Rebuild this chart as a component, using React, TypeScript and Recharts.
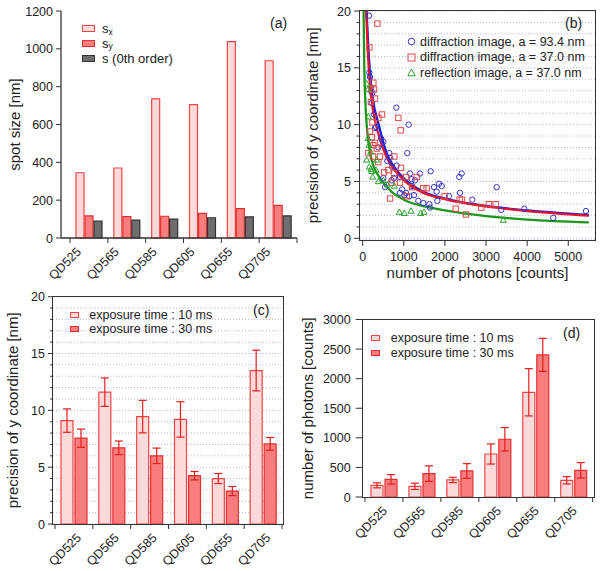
import React from "react";
import {
  BarChart, Bar, ComposedChart, Line, Scatter, XAxis, YAxis, CartesianGrid, ErrorBar, Legend, Label,
} from "recharts";

const FONT = '"Liberation Sans", Arial, sans-serif';
const INK = "#222";
const AXIS = "#333";
const GRID = "#b4b4ec";
const PINK_FILL = "#fddada";
const PINK_LINE = "#ec4646";
const RED_FILL = "#f97d7d";
const RED_LINE = "#e23030";
const GRAY_FILL = "#6e6e6e";
const ERR = "#e01e1e";

const QDS = ["QD525", "QD565", "QD585", "QD605", "QD655", "QD705"];

// (a) spot size [nm]
const SPOT_X = [345, 370, 735, 705, 1038, 937];
const SPOT_Y = [117, 113, 115, 130, 155, 172];
const SPOT_0 = [90, 95, 100, 107, 112, 117];
const SPOT_TICKS = [0, 200, 400, 600, 800, 1000, 1200];

// (c) precision of y coordinate, mean and error
const PREC_10 = [9.1, 11.6, 9.45, 9.2, 4.0, 13.5];
const PREC_10_ERR = [1.03, 1.25, 1.43, 1.56, 0.44, 1.79];
const PREC_30 = [7.55, 6.7, 6.0, 4.25, 2.9, 7.05];
const PREC_30_ERR = [0.8, 0.6, 0.68, 0.37, 0.4, 0.56];
const PREC_TICKS = [0, 1, 2, 3, 4, 5, 6, 7, 8, 9, 10, 11, 12, 13, 14, 15, 16, 17, 18, 19, 20];

// (d) number of photons
const PHOT_10 = [197, 180, 288, 727, 1770, 282];
const PHOT_10_ERR = [42, 53, 45, 170, 400, 62];
const PHOT_30 = [299, 395, 440, 976, 2402, 451];
const PHOT_30_ERR = [79, 132, 124, 198, 279, 130];
const PHOT_TICKS = [0, 500, 1000, 1500, 2000, 2500, 3000];

// (b) precision vs photons: [photons, precision]
const DIFF_93 = [
  [154, 19.6], [162, 14.6], [178, 14.2], [219, 11.9], [235, 12.8], [275, 10.9], [300, 9.7], [324, 9.8],
  [380, 8.0], [446, 8.8], [502, 8.5], [502, 5.3], [543, 4.5], [600, 6.8], [648, 7.5], [665, 7.1],
  [705, 5.1], [713, 6.3], [760, 5.3], [819, 11.5], [827, 6.4], [908, 5.4], [908, 4.0], [960, 4.3],
  [1013, 3.8], [1054, 4.0], [1086, 7.5], [1118, 10.0], [1135, 3.7], [1151, 5.7], [1191, 5.2], [1200, 4.6],
  [1248, 3.8], [1272, 5.1], [1353, 3.3], [1394, 5.7], [1475, 3.1], [1621, 3.0], [1637, 2.7], [1653, 5.9],
  [1734, 4.5], [1799, 4.1], [1815, 3.3], [1856, 4.8], [1921, 4.6], [2099, 3.7], [2350, 5.4], [2366, 4.0],
  [2407, 5.7], [2666, 3.4], [3258, 4.5], [3371, 2.5], [3930, 2.6], [4635, 1.8], [5430, 2.4],
];
const DIFF_37 = [
  [138, 7.5], [162, 16.8], [178, 9.4], [200, 12.0], [203, 13.1], [219, 8.9], [240, 10.2], [251, 7.2],
  [259, 13.7], [259, 8.2], [275, 13.1], [300, 12.3], [300, 8.4], [340, 7.9], [357, 18.9], [381, 10.6],
  [381, 6.7], [421, 7.2], [470, 10.9], [520, 5.8], [624, 6.0], [665, 3.5], [700, 4.9], [762, 5.7],
  [770, 7.2], [867, 10.6], [908, 4.9], [924, 9.5], [932, 6.2], [1054, 5.4], [1070, 3.7], [1200, 4.5],
  [1313, 5.4], [1475, 4.4], [1556, 4.4], [1994, 3.7], [2261, 2.6], [2358, 3.4], [2415, 3.4], [2512, 2.1],
  [2885, 2.7], [3071, 3.0], [3234, 3.0],
];
const REFL_37 = [
  [97, 13.6], [97, 6.9], [122, 13.1], [130, 8.8], [138, 10.7], [154, 8.2], [162, 6.3], [194, 7.6],
  [200, 6.1], [219, 5.9], [243, 5.4], [324, 6.0], [340, 6.9], [381, 5.0], [502, 5.1], [600, 4.7],
  [770, 4.6], [891, 2.3], [1013, 2.2], [1175, 2.4], [1410, 2.2], [1491, 2.3], [3420, 1.6],
];
// fitted curves
const FIT_93 = [
  [95, 20], [130, 17.3], [178, 14.6], [250, 12.2], [390, 10], [583, 7.5], [800, 6.1], [1054, 5.1],
  [1475, 4.1], [2000, 3.5], [3000, 2.85], [4000, 2.45], [5500, 2.05],
];
const FIT_37 = [
  [85, 20], [120, 16.8], [170, 13.8], [250, 11.3], [380, 9.2], [583, 7.1], [800, 5.9], [1054, 4.95],
  [1475, 4.0], [2000, 3.45], [3000, 2.8], [4000, 2.4], [5500, 2.0],
];
const FIT_REFL = [
  [22, 20], [40, 15], [60, 12.5], [97, 10], [150, 8.2], [250, 6.5], [350, 5.7], [500, 4.9], [700, 4.1],
  [1000, 3.4], [1500, 2.8], [2000, 2.45], [3000, 1.95], [4000, 1.65], [5500, 1.4],
];
const PHOTON_TICKS = [0, 1000, 2000, 3000, 4000, 5000];

const spotData = QDS.map((qd, i) => ({ qd, sx: SPOT_X[i], sy: SPOT_Y[i], s0: SPOT_0[i] }));
const precData = QDS.map((qd, i) => ({ qd, t10: PREC_10[i], e10: PREC_10_ERR[i], t30: PREC_30[i], e30: PREC_30_ERR[i] }));
const photData = QDS.map((qd, i) => ({ qd, t10: PHOT_10[i], e10: PHOT_10_ERR[i], t30: PHOT_30[i], e30: PHOT_30_ERR[i] }));
const pts = (arr: number[][]) => arr.map(([n, p]) => ({ n, p }));

// category ticks sit on band edges, labels rotated under the band centre
const catTick = (dx: number) => (p: any) => {
  const half = p.payload?.offset || 19;
  const last = p.index === QDS.length - 1;
  return (
    <g>
      <line x1={p.x - half} x2={p.x - half} y1={p.y} y2={p.y + 5} stroke={AXIS} />
      {last && <line x1={p.x + half} x2={p.x + half} y1={p.y} y2={p.y + 5} stroke={AXIS} />}
      <text transform={`translate(${p.x + dx},${p.y + 14.5}) rotate(-45)`} textAnchor="end" fontSize={12.5} fill={INK}>
        {p.payload.value}
      </text>
    </g>
  );
};

const sideTick = (major: number, len: number, minorLen: number, gap: number) => (p: any) => {
  const v = Number(p.payload.value);
  const isMajor = v % major === 0;
  return (
    <g>
      <line x1={p.x - (isMajor ? len : minorLen)} x2={p.x} y1={p.y} y2={p.y} stroke={AXIS} />
      {isMajor && (
        <text x={p.x - len - gap} y={p.y} dy="0.36em" textAnchor="end" fontSize={12.5} fill={INK}>{v}</text>
      )}
    </g>
  );
};

const yTitle = (text: string, x: number) => (p: any) => {
  const vb = p.viewBox || {};
  const cy = vb.y + vb.height / 2;
  return (
    <text x={x} y={cy} transform={`rotate(-90, ${x}, ${cy})`} textAnchor="middle" fontSize={15} fill={INK}>{text}</text>
  );
};

const xTitle = (text: string, y: number) => (p: any) => {
  const vb = p.viewBox || {};
  const cx = vb.x + vb.width / 2;
  return <text x={cx} y={y} textAnchor="middle" fontSize={15} fill={INK}>{text}</text>;
};

const swatch = (fill: string, stroke: string, w: number, h: number) => (
  <span style={{ display: "inline-block", width: w, height: h, background: fill, border: `1px solid ${stroke}`, boxSizing: "border-box" }} />
);

const mark = (kind: string, color: string) => (
  <svg width={9} height={9} style={{ display: "block" }}>
    {kind === "circle" && <circle cx={4.5} cy={4.5} r={3.3} fill="none" stroke={color} />}
    {kind === "square" && <rect x={1} y={1} width={7} height={7} fill="none" stroke={color} />}
    {kind === "triangle" && <path d="M4.5 1 L8.2 7.8 L0.8 7.8 Z" fill="none" stroke={color} />}
  </svg>
);

const keyBox = (rows: { m: React.ReactNode; t: React.ReactNode }[], rowH: number, col: number, size: number) => () => (
  <div style={{ position: "relative", fontFamily: FONT, fontSize: size, color: INK }}>
    {rows.map((r, i) => (
      <div key={i} style={{ position: "absolute", left: 0, top: i * rowH, height: rowH, display: "flex", alignItems: "center", whiteSpace: "nowrap" }}>
        <span style={{ width: col, display: "inline-flex", alignItems: "center" }}>{r.m}</span>
        <span style={{ lineHeight: 1 }}>{r.t}</span>
      </div>
    ))}
  </div>
);

const sub = (s: string) => <span style={{ fontSize: 8.5, position: "relative", top: 1.5 }}>{s}</span>;

const Frame = ({ left, top, width, height }: { left: number; top: number; width: number; height: number }) => (
  <div style={{ position: "absolute", left: left - 0.7, top: top - 0.7, width: width + 1.4, height: height + 1.4, border: `1.4px solid ${AXIS}`, boxSizing: "border-box", pointerEvents: "none" }} />
);

const Tag = ({ left, top, text }: { left: number; top: number; text: string }) => (
  <div style={{ position: "absolute", left, top, fontSize: 14, lineHeight: "16px", color: INK }}>{text}</div>
);

export default function App() {
  return (
    <div style={{ position: "absolute", left: 0, top: 0, width: 601, height: 571, background: "#fff", fontFamily: FONT, overflow: "hidden" }}>
      {/* (a) */}
      <div style={{ position: "absolute", left: 0, top: 0 }}>
        <BarChart width={300} height={285} data={spotData} margin={{ top: 11, right: 3, bottom: 0, left: 0 }} barCategoryGap={6} barGap={1}>
          <XAxis dataKey="qd" height={47} padding={{ left: 9, right: 0 }} tickSize={0} tickMargin={0} tickLine={false} interval={0}
            axisLine={{ stroke: AXIS, strokeWidth: 1.3 }} tick={catTick(-7)} />
          <YAxis width={61} domain={[0, 1200]} ticks={SPOT_TICKS} interval={0} tickSize={0} tickMargin={0} tickLine={false}
            axisLine={{ stroke: AXIS, strokeWidth: 1.3 }} tick={sideTick(200, 5, 5, 3)}>
            <Label content={yTitle("spot size [nm]", 20)} />
          </YAxis>
          <Bar dataKey="sx" fill={PINK_FILL} stroke={PINK_LINE} strokeWidth={1.2} isAnimationActive={false} />
          <Bar dataKey="sy" fill={RED_FILL} stroke={RED_LINE} strokeWidth={1.2} isAnimationActive={false} />
          <Bar dataKey="s0" fill={GRAY_FILL} stroke={AXIS} strokeWidth={1.2} isAnimationActive={false} />
          <Legend layout="vertical" align="center" verticalAlign="middle" wrapperStyle={{ left: 82, top: 21.3, width: 120, height: 45 }}
            content={keyBox([
              { m: swatch(PINK_FILL, PINK_LINE, 13, 7), t: <>s{sub("x")}</> },
              { m: swatch(RED_FILL, RED_LINE, 13, 7), t: <>s{sub("y")}</> },
              { m: swatch(GRAY_FILL, AXIS, 13, 7), t: "s (0th order)" },
            ], 14.7, 20, 13)} />
        </BarChart>
        <Tag left={270} top={15} text="(a)" />
      </div>

      {/* (b) */}
      <div style={{ position: "absolute", left: 300, top: 0 }}>
        <ComposedChart width={301} height={290} margin={{ top: 10.5, right: 6, bottom: 0, left: 0 }}>
          <CartesianGrid vertical={false} stroke={GRID} strokeDasharray="1 2" />
          <XAxis type="number" dataKey="n" domain={[-65, 5650]} ticks={PHOTON_TICKS} allowDataOverflow height={50}
            axisLine={false} tickSize={6} tickMargin={6} tickLine={{ stroke: AXIS }} tick={{ fontSize: 12.5, fill: INK }}>
            <Label content={xTitle("number of photons [counts]", 278)} />
          </XAxis>
          <YAxis type="number" dataKey="p" domain={[-0.15, 20.05]} ticks={PREC_TICKS} interval={0} allowDataOverflow width={60}
            axisLine={false} tickSize={0} tickMargin={0} tickLine={false} tick={sideTick(5, 6, 3.5, 3)}>
            <Label content={yTitle("precision of y coordinate [nm]", 18)} />
          </YAxis>
          <Scatter data={pts(DIFF_93)} isAnimationActive={false}
            shape={(p: any) => <circle cx={p.cx} cy={p.cy} r={2.7} fill="none" stroke="#3535c8" strokeWidth={1} />} />
          <Scatter data={pts(DIFF_37)} isAnimationActive={false}
            shape={(p: any) => <rect x={p.cx - 2.7} y={p.cy - 2.7} width={5.4} height={5.4} fill="none" stroke="#e04848" strokeWidth={1} />} />
          <Scatter data={pts(REFL_37)} isAnimationActive={false}
            shape={(p: any) => <path d={`M${p.cx} ${p.cy - 3.2} L${p.cx + 3} ${p.cy + 2.2} L${p.cx - 3} ${p.cy + 2.2} Z`} fill="none" stroke="#2aa02a" strokeWidth={1} />} />
          <Line data={pts(FIT_93)} dataKey="p" type="monotone" stroke="#1818e0" strokeWidth={2.3} dot={false} isAnimationActive={false} />
          <Line data={pts(FIT_37)} dataKey="p" type="monotone" stroke="#e0142c" strokeWidth={2.3} dot={false} isAnimationActive={false} />
          <Line data={pts(FIT_REFL)} dataKey="p" type="monotone" stroke="#1a961a" strokeWidth={2.3} dot={false} isAnimationActive={false} />
          <Legend layout="vertical" align="center" verticalAlign="middle" wrapperStyle={{ left: 107, top: 34, width: 190, height: 47 }}
            content={keyBox([
              { m: mark("circle", "#3535c8"), t: "diffraction image, a = 93.4 nm" },
              { m: mark("square", "#e04848"), t: "diffraction image, a = 37.0 nm" },
              { m: mark("triangle", "#2aa02a"), t: "reflection image, a = 37.0 nm" },
            ], 15.5, 13, 12.5)} />
        </ComposedChart>
        <Frame left={60} top={10.5} width={235} height={229.5} />
        <Tag left={265} top={15} text="(b)" />
      </div>

      {/* (c) */}
      <div style={{ position: "absolute", left: 0, top: 285 }}>
        <BarChart width={300} height={286} data={precData} margin={{ top: 11.7, right: 17, bottom: 0, left: 0 }} barCategoryGap={6} barGap={2}>
          <CartesianGrid vertical={false} stroke={GRID} strokeDasharray="1 2" />
          <XAxis dataKey="qd" height={47} padding={{ left: 2, right: 1 }} tickSize={0} tickMargin={0} tickLine={false} interval={0}
            axisLine={false} tick={catTick(8)} />
          <YAxis width={53} domain={[0, 20]} ticks={PREC_TICKS} interval={0} tickSize={0} tickMargin={0} tickLine={false}
            axisLine={false} tick={sideTick(5, 5, 3, 3)}>
            <Label content={yTitle("precision of y coordinate [nm]", 18)} />
          </YAxis>
          <Bar dataKey="t10" fill={PINK_FILL} stroke={PINK_LINE} strokeWidth={1.2} isAnimationActive={false}>
            <ErrorBar dataKey="e10" width={4} stroke={ERR} strokeWidth={1.2} isAnimationActive={false} />
          </Bar>
          <Bar dataKey="t30" fill={RED_FILL} stroke={RED_LINE} strokeWidth={1.2} isAnimationActive={false}>
            <ErrorBar dataKey="e30" width={4} stroke={ERR} strokeWidth={1.2} isAnimationActive={false} />
          </Bar>
          <Legend layout="vertical" align="center" verticalAlign="middle" wrapperStyle={{ left: 70, top: 23, width: 170, height: 28 }}
            content={keyBox([
              { m: swatch(PINK_FILL, PINK_LINE, 9, 6), t: "exposure time : 10 ms" },
              { m: swatch(RED_FILL, RED_LINE, 9, 6), t: "exposure time : 30 ms" },
            ], 14, 19.3, 12.5)} />
        </BarChart>
        <Frame left={53} top={11.7} width={230} height={227.3} />
        <Tag left={253} top={17} text="(c)" />
      </div>

      {/* (d) */}
      <div style={{ position: "absolute", left: 300, top: 285 }}>
        <BarChart width={301} height={286} data={photData} margin={{ top: 34.5, right: 7, bottom: 0, left: 0 }} barCategoryGap={6} barGap={2}>
          <XAxis dataKey="qd" height={74} padding={{ left: 2.3, right: 1.3 }} tickSize={0} tickMargin={0} tickLine={false} interval={0}
            axisLine={false} tick={catTick(4)} />
          <YAxis width={62.7} domain={[0, 3000]} ticks={PHOT_TICKS} interval={0} tickSize={0} tickMargin={0} tickLine={false}
            axisLine={false} tick={sideTick(500, 7, 7, 5)}>
            <Label content={yTitle("number of photons [counts]", 13)} />
          </YAxis>
          <Bar dataKey="t10" fill={PINK_FILL} stroke={PINK_LINE} strokeWidth={1.2} isAnimationActive={false}>
            <ErrorBar dataKey="e10" width={4} stroke={ERR} strokeWidth={1.2} isAnimationActive={false} />
          </Bar>
          <Bar dataKey="t30" fill={RED_FILL} stroke={RED_LINE} strokeWidth={1.2} isAnimationActive={false}>
            <ErrorBar dataKey="e30" width={4} stroke={ERR} strokeWidth={1.2} isAnimationActive={false} />
          </Bar>
          <Legend layout="vertical" align="center" verticalAlign="middle" wrapperStyle={{ left: 70.7, top: 46, width: 170, height: 30 }}
            content={keyBox([
              { m: swatch(PINK_FILL, PINK_LINE, 9, 6), t: "exposure time : 10 ms" },
              { m: swatch(RED_FILL, RED_LINE, 9, 6), t: "exposure time : 30 ms" },
            ], 14.7, 20, 12.5)} />
        </BarChart>
        <Frame left={62.7} top={34.5} width={231.3} height={177.5} />
        <Tag left={263} top={40} text="(d)" />
      </div>
    </div>
  );
}
